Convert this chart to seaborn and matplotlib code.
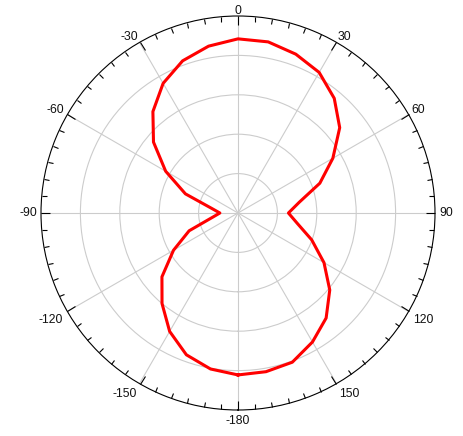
import numpy as np
import pandas as pd
import matplotlib
matplotlib.use("Agg")
import matplotlib.pyplot as plt
import seaborn as sns

# angle (deg) and radial value
angles = [-180, -170, -160, -150, -140, -130, -120, -110, -100, -90,
          -80, -70, -60, -50, -40, -30, -20, -10, 0,
          10, 20, 30, 40, 50, 60, 70, 80, 90,
          100, 110, 120, 130, 140, 150, 160, 170, 180]
values = [4.11, 4.02, 3.83, 3.47, 3.00, 2.52, 1.89, 1.32, 0.67, 0.46,
          0.68, 1.42, 2.12, 2.80, 3.36, 3.80, 4.11, 4.30, 4.42,
          4.41, 4.29, 4.12, 3.80, 3.37, 2.78, 2.21, 1.58, 1.28,
          1.53, 1.99, 2.52, 3.04, 3.48, 3.78, 4.03, 4.09, 4.11]
tick_deg = [-180, -150, -120, -90, -60, -30, 0, 30, 60, 90, 120, 150]
tick_labels = ["-180", "-150", "-120", "-90", "-60", "-30", "0", "30", "60", "90", "120", "150"]
ring_values = [1, 2, 3, 4]
r_max = 5

plt.rcParams['font.family'] = ['Liberation Sans', 'DejaVu Sans']

df = pd.DataFrame({"theta": np.deg2rad(angles), "r": values})

fig = plt.figure(figsize=(4.64, 4.36), dpi=100)
ax = fig.add_axes([41 / 464, 26 / 436, 394 / 464, 394 / 436], projection='polar')
ax.set_theta_zero_location('N')
ax.set_theta_direction(-1)

sns.lineplot(data=df, x="theta", y="r", sort=False, color="red",
             linewidth=2.2, ax=ax)

ax.set_thetamin(-180)
ax.set_thetamax(180)
ax.set_ylim(0, r_max)
ax.set_yticks(ring_values)
ax.set_yticklabels([])
ax.set_xticks(np.deg2rad(tick_deg))
ax.set_xticklabels([])
ax.set_xticks(np.deg2rad(np.arange(-180, 180, 5)), minor=True)
ax.tick_params(axis='x', which='both', bottom=False, top=True)
ax.tick_params(axis='x', which='major', direction='in', length=6.8, width=0.8,
               color='black')
ax.tick_params(axis='x', which='minor', direction='in', length=3.6, width=0.8,
               color='black')
ax.grid(True, color='#cccccc', linewidth=0.8)
ax.spines['polar'].set_color('black')
ax.spines['polar'].set_linewidth(0.8)
ax.set_xlabel("")
ax.set_ylabel("")

# angle labels sit just outside the rim, aligned away from the centre
for deg, lab in zip(tick_deg, tick_labels):
    dx = np.sin(np.deg2rad(deg))
    dy = np.cos(np.deg2rad(deg))
    gap = 4 - 1.5 * dy
    ha = 'left' if dx > 0.1 else ('right' if dx < -0.1 else 'center')
    va = 'baseline' if dy > 0.1 else ('top' if dy < -0.1 else 'center')
    ax.annotate(lab, xy=(np.deg2rad(deg), r_max), xytext=(gap * dx, gap * dy),
                textcoords='offset pixels', ha=ha, va=va, fontsize=8.8,
                color='#111111', annotation_clip=False)

fig.savefig("out.png", dpi=100)
